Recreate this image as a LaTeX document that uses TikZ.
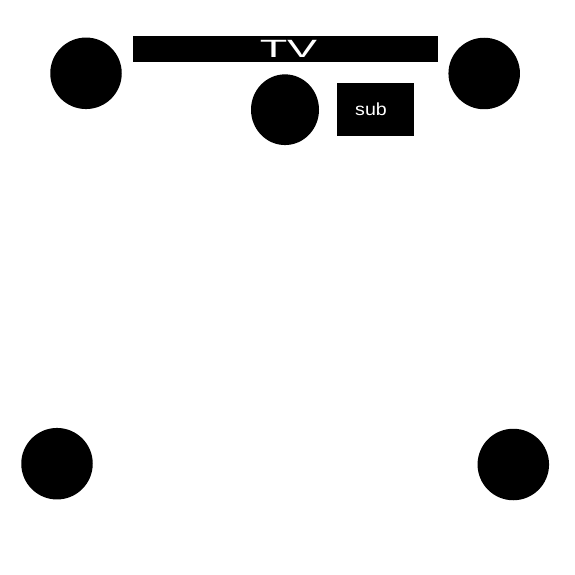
\documentclass[tikz,border=0pt]{standalone}
\usepackage{fontspec}
\setmainfont{Liberation Sans}
\usepackage{tikz}
\usetikzlibrary{shapes.geometric}

\tikzset{
    speaker/.style={circle, fill=black, inner sep=0pt, minimum size=71.5pt},
    blackbox/.style={fill=black, inner sep=0pt},
}

\begin{document}
\begin{tikzpicture}[x=1pt, y=-1pt]
    \useasboundingbox (0,0) rectangle (575,575);

    % screen and subwoofer
    \node[blackbox, minimum width=305pt, minimum height=26pt] (tv) at (285.2,49) {};
    \node[text=white, font=\fontsize{25}{25}\selectfont, xscale=1.8, inner sep=0pt] (tvlabel) at (288.5,48.5) {TV};
    \node[blackbox, minimum width=77.6pt, minimum height=53pt] (sub) at (375.5,109.2) {};
    \node[text=white, font=\fontsize{17.5}{17.5}\selectfont, xscale=1.12, inner sep=0pt] (sublabel) at (371,109.5) {sub};

    % speakers
    \node[speaker] (frontleft) at (86,73.3) {};
    \node[speaker] (frontright) at (484.2,73.5) {};
    \node[ellipse, fill=black, inner sep=0pt, minimum width=68pt, minimum height=70.7pt] (center) at (285,109.7) {};
    \node[speaker] (rearleft) at (57,463.7) {};
    \node[speaker] (rearright) at (513.3,464.5) {};
\end{tikzpicture}
\end{document}
